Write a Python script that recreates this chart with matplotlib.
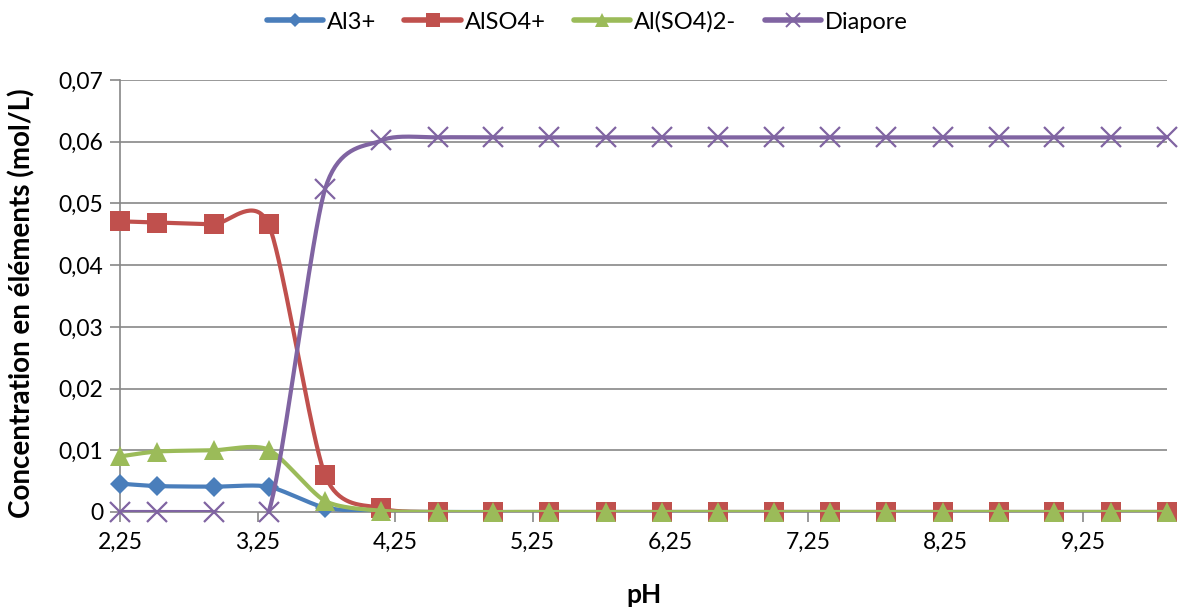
import numpy as np
import matplotlib
matplotlib.use("Agg")
import matplotlib.pyplot as plt
from matplotlib.lines import Line2D

plt.rcParams['font.family'] = ['Lato', 'DejaVu Sans']

ph = [2.25, 2.52, 2.93, 3.33, 3.74, 4.15, 4.56, 4.96, 5.37, 5.78, 6.19, 6.60,
      7.00, 7.41, 7.82, 8.23, 8.64, 9.04, 9.45, 9.86]
al3 = [0.0046, 0.0042, 0.0041, 0.0041, 0.0007, 0.0001] + [0.0] * 14
also4 = [0.0471, 0.0469, 0.0466, 0.0466, 0.0060, 0.0006] + [0.0] * 14
also42 = [0.0090, 0.0098, 0.0100, 0.0101, 0.0018, 0.0002] + [0.0] * 14
diapore = [0.0, 0.0, 0.0, 0.0, 0.0523, 0.0602] + [0.0607] * 14

series_names = ["Al3+", "AlSO4+", "Al(SO4)2-", "Diapore"]
colors = ["#4A7EBB", "#C0504D", "#9BBB59", "#8064A2"]
markers = ["D", "s", "^", "x"]
msizes = [10, 14, 14, 14]

xticks = [2.25, 3.25, 4.25, 5.25, 6.25, 7.25, 8.25, 9.25]
yticks = [0, 0.01, 0.02, 0.03, 0.04, 0.05, 0.06, 0.07]


def smooth(x, y, n=40, f=0.125):
    x = np.asarray(x, float)
    y = np.asarray(y, float)
    P = np.column_stack([x, y])
    out = []
    m = len(P)
    for i in range(m - 1):
        p0 = P[i - 1] if i > 0 else P[i]
        p1 = P[i]
        p2 = P[i + 1]
        p3 = P[i + 2] if i + 2 < m else P[i + 1]
        c1 = p1 + (p2 - p0) * f
        c2 = p2 - (p3 - p1) * f
        t = np.linspace(0, 1, n)[:, None]
        seg = ((1 - t) ** 3) * p1 + 3 * ((1 - t) ** 2) * t * c1 + 3 * (1 - t) * t ** 2 * c2 + t ** 3 * p2
        out.append(seg if i == 0 else seg[1:])
    arr = np.vstack(out)
    return arr[:, 0], arr[:, 1]


W, H = 1179, 608
fig = plt.figure(figsize=(W / 100, H / 100), dpi=100)
L, R, T, B = 120, 1167, 80, 512
ax = fig.add_axes([L / W, (H - B) / H, (R - L) / W, (B - T) / H])

grid_c = "#878787"
for yv in yticks[1:]:
    ax.axhline(yv, color=grid_c, lw=1.2, zorder=1)

data = [al3, also4, also42, diapore]
handles = []
for k, (vals, c, mk, ms, name) in enumerate(zip(data, colors, markers, msizes, series_names)):
    sx, sy = smooth(ph, vals)
    ax.plot(sx, sy, color=c, lw=3, zorder=3 + k, solid_capstyle='round')
    if mk == 'x':
        ax.plot(ph, vals, linestyle='none', marker=mk, markersize=ms, markeredgewidth=1.6,
                color=c, zorder=3 + k, clip_on=False)
    else:
        ax.plot(ph, vals, linestyle='none', marker=mk, markersize=ms, markeredgewidth=0,
                color=c, zorder=3 + k, clip_on=False)
    handles.append(Line2D([], [], color=c, lw=4, marker=mk, markersize=ms * 0.75,
                          markeredgewidth=1.4 if mk == 'x' else 0, label=name,
                          solid_capstyle='round'))

ax.set_xlim(2.25, 9.86)
ax.set_ylim(0, 0.07)
ax.set_xticks(xticks)
ax.set_xticklabels([f"{v:.2f}".replace('.', ',') for v in xticks])
ax.set_yticks(yticks)
ax.set_yticklabels(["0"] + [f"{v:.2f}".replace('.', ',') for v in yticks[1:]])
ax.tick_params(axis='both', labelsize=16.5, color=grid_c, length=7, width=1.2, direction='out')
ax.tick_params(axis='x', pad=7)
ax.tick_params(axis='y', pad=5)

for s in ['top', 'right']:
    ax.spines[s].set_visible(False)
for s in ['left', 'bottom']:
    ax.spines[s].set_color(grid_c)
    ax.spines[s].set_linewidth(1.2)
    ax.spines[s].set_zorder(2)

fig.text(22 / W, 1 - 303 / H, "Concentration en éléments (mol/L)", rotation=90,
         ha='center', va='center', fontsize=20, fontweight='bold')
fig.text((L + R) / 2 / W, 1 - 595 / H, "pH", ha='center', va='center',
         fontsize=19, fontweight='bold')

fig.legend(handles=handles, loc='center', bbox_to_anchor=(0.498, 1 - 22 / H), ncol=4,
           frameon=False, fontsize=17, handlelength=2.4, handletextpad=0.15,
           columnspacing=1.2)

fig.savefig("out.png", dpi=100)
